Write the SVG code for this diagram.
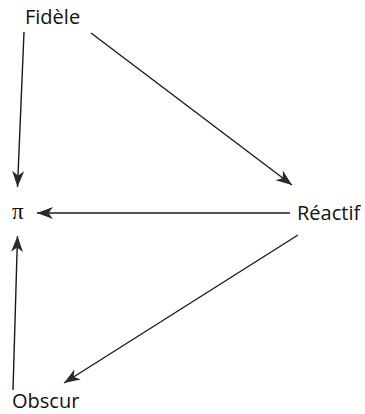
<svg xmlns="http://www.w3.org/2000/svg" width="365" height="414" viewBox="0 0 365 414">
<style>
.lbl{font-family:"Open Sans","Noto Sans",sans-serif;font-size:20px;fill:#111}
.pi{font-family:"Liberation Serif",serif;font-size:23px;fill:#111}
.edge{stroke:#1a1a1a;stroke-width:1.4;fill:none;marker-end:url(#ah)}
</style>
<defs>
<marker id="ah" markerUnits="userSpaceOnUse" markerWidth="17" markerHeight="13" refX="16" refY="6" orient="auto" viewBox="0 0 17 12">
<path d="M0,0 L16,6 L0,12 L4.5,6 z" fill="#2a2a2a"/>
</marker>
</defs>
<rect width="365" height="414" fill="#fff"/>
<g id="connectors">
<line class="edge" x1="24" y1="32" x2="17.5" y2="187"/>
<line class="edge" x1="91" y1="33" x2="292" y2="185"/>
<line class="edge" x1="290" y1="213" x2="37" y2="213"/>
<line class="edge" x1="298" y1="235" x2="64" y2="383"/>
<line class="edge" x1="13" y1="390" x2="17.5" y2="236"/>
</g>
<g id="fidele"><text class="lbl" x="25" y="24">Fidèle</text></g>
<g id="pi"><text class="pi" x="12" y="219">π</text></g>
<g id="reactif"><text class="lbl" x="297" y="220">Réactif</text></g>
<g id="obscur"><text class="lbl" x="12" y="408">Obscur</text></g>
</svg>
